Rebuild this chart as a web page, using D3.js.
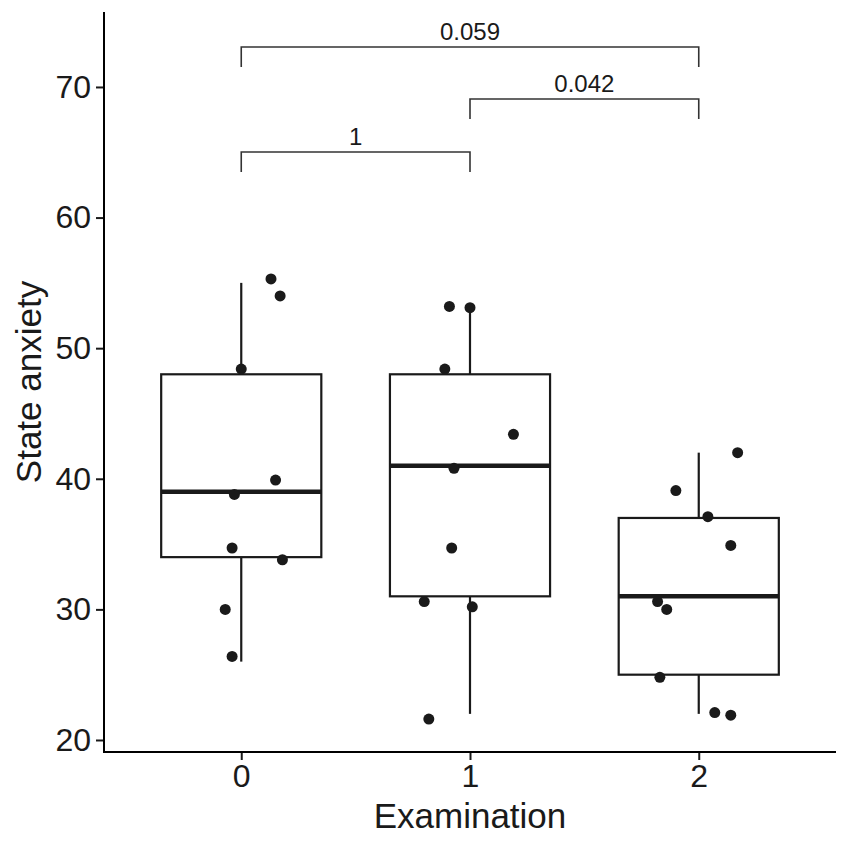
<!DOCTYPE html>
<html>
<head>
<meta charset="utf-8">
<script src="https://cdn.jsdelivr.net/npm/d3@7"></script>
<style>
  body { margin: 0; background: #fff; }
  text { font-family: "Liberation Sans", Arial, sans-serif; }
</style>
</head>
<body>
<div id="chart"></div>
<script>
// groups on the x axis
var groups = ["0", "1", "2"];

// box statistics
var lowWhisker = [26, 22, 22];
var q1 = [34, 31, 25];
var medians = [39, 41, 31];
var q3 = [48, 48, 37];
var highWhisker = [55, 53, 42];

// jittered points (value, horizontal jitter as fraction of the step)
var pointsG0 = [55.3, 54.0, 48.4, 39.9, 38.8, 34.7, 33.8, 30.0, 26.4];
var jitterG0 = [0.13, 0.17, 0.00, 0.15, -0.03, -0.04, 0.18, -0.07, -0.04];
var pointsG1 = [53.2, 53.1, 48.4, 43.4, 40.8, 34.7, 30.6, 30.2, 21.6];
var jitterG1 = [-0.09, 0.00, -0.11, 0.19, -0.07, -0.08, -0.20, 0.01, -0.18];
var pointsG2 = [42.0, 39.1, 37.1, 34.9, 30.6, 30.0, 24.8, 22.1, 21.9];
var jitterG2 = [0.17, -0.10, 0.04, 0.14, -0.18, -0.14, -0.17, 0.07, 0.14];

// significance brackets
var compFrom = ["0", "1", "0"];
var compTo = ["2", "2", "1"];
var compLabel = ["0.059", "0.042", "1"];
var compY = [73.06, 69.08, 65.02];
var tipLength = 1.53;

var yTicks = [20, 30, 40, 50, 60, 70];

function drawChart() {
    var width = 850, height = 850;
    var mLeft = 104, mRight = 836, mTop = 12, mBottom = 752;

    var svg = d3.select("#chart").append("svg")
        .attr("width", width).attr("height", height);

    var x = d3.scalePoint().domain(groups).range([mLeft, mRight]).padding(0.6);
    var y = d3.scaleLinear().domain([19.08, 75.74]).range([mBottom, mTop]);
    var boxW = x.step() * 0.7;

    // boxes
    groups.forEach(function (g, i) {
        var cx = x(g);
        var bx = svg.append("g");
        bx.append("line")
            .attr("x1", cx).attr("x2", cx)
            .attr("y1", y(highWhisker[i])).attr("y2", y(q3[i]))
            .attr("stroke", "#1a1a1a").attr("stroke-width", 2.2);
        bx.append("line")
            .attr("x1", cx).attr("x2", cx)
            .attr("y1", y(q1[i])).attr("y2", y(lowWhisker[i]))
            .attr("stroke", "#1a1a1a").attr("stroke-width", 2.2);
        bx.append("rect")
            .attr("x", cx - boxW / 2).attr("width", boxW)
            .attr("y", y(q3[i])).attr("height", y(q1[i]) - y(q3[i]))
            .attr("fill", "#fff").attr("stroke", "#1a1a1a").attr("stroke-width", 2.2);
        bx.append("line")
            .attr("x1", cx - boxW / 2).attr("x2", cx + boxW / 2)
            .attr("y1", y(medians[i])).attr("y2", y(medians[i]))
            .attr("stroke", "#1a1a1a").attr("stroke-width", 4.5);
    });

    // jittered points
    var allPoints = [];
    [[pointsG0, jitterG0], [pointsG1, jitterG1], [pointsG2, jitterG2]].forEach(function (p, i) {
        p[0].forEach(function (v, j) {
            allPoints.push({ g: groups[i], v: v, j: p[1][j] });
        });
    });

    svg.selectAll(".pt")
        .data(allPoints)
        .enter().append("circle")
        .attr("class", "pt")
        .attr("cx", function (d) { return x(d.g) + d.j * x.step(); })
        .attr("cy", function (d) { return y(d.v); })
        .attr("r", 5.5)
        .attr("fill", "#1a1a1a");

    // significance brackets
    compLabel.forEach(function (lab, i) {
        var x1 = x(compFrom[i]), x2 = x(compTo[i]);
        var yy = y(compY[i]), yt = y(compY[i] - tipLength);
        svg.append("path")
            .attr("d", "M" + x1 + "," + yt + "V" + yy + "H" + x2 + "V" + yt)
            .attr("fill", "none")
            .attr("stroke", "#333")
            .attr("stroke-width", 1.6);
        svg.append("text")
            .attr("x", (x1 + x2) / 2)
            .attr("y", yy - 7)
            .attr("text-anchor", "middle")
            .style("font-size", "24px")
            .style("fill", "#1a1a1a")
            .text(lab);
    });

    // axes
    var yAxis = svg.append("g")
        .attr("transform", "translate(" + mLeft + ",0)")
        .call(d3.axisLeft(y).tickValues(yTicks).tickSize(8).tickPadding(5));
    var xAxis = svg.append("g")
        .attr("transform", "translate(0," + mBottom + ")")
        .call(d3.axisBottom(x).tickSize(8).tickPadding(4));

    [yAxis, xAxis].forEach(function (ax) {
        ax.select(".domain").remove();
        ax.selectAll("line").attr("stroke", "#1a1a1a").attr("stroke-width", 2);
        ax.selectAll("text").style("font-size", "32px").style("fill", "#1a1a1a")
            .style("font-family", "'Liberation Sans', Arial, sans-serif");
    });

    svg.append("line")
        .attr("x1", mLeft).attr("x2", mLeft).attr("y1", mTop).attr("y2", mBottom + 1)
        .attr("stroke", "#000").attr("stroke-width", 2);
    svg.append("line")
        .attr("x1", mLeft - 1).attr("x2", mRight).attr("y1", mBottom).attr("y2", mBottom)
        .attr("stroke", "#000").attr("stroke-width", 2);

    // axis titles
    svg.append("text")
        .attr("x", (mLeft + mRight) / 2)
        .attr("y", 828)
        .attr("text-anchor", "middle")
        .style("font-size", "35px")
        .style("fill", "#1a1a1a")
        .text("Examination");

    svg.append("text")
        .attr("transform", "translate(41," + (mTop + mBottom) / 2 + ") rotate(-90)")
        .attr("text-anchor", "middle")
        .style("font-size", "35px")
        .style("fill", "#1a1a1a")
        .text("State anxiety");
}

drawChart();
</script>
</body>
</html>
